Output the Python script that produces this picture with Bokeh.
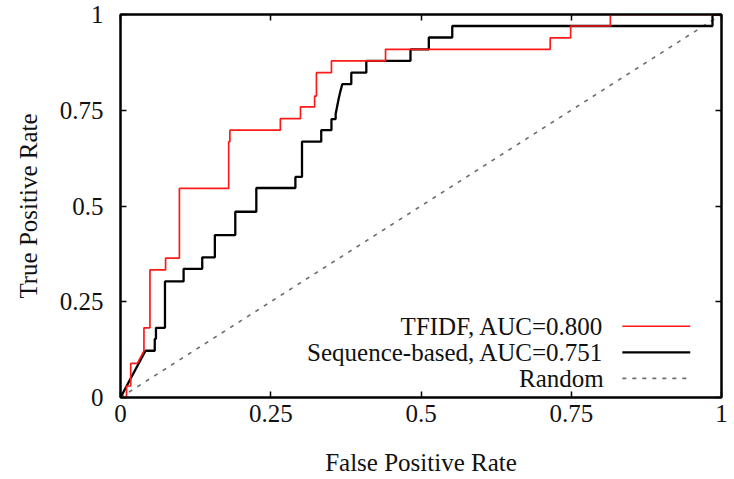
from bokeh.plotting import figure
from bokeh.models import Range1d, FixedTicker, LinearAxis, CustomJSTickFormatter, ColumnDataSource
from bokeh.core.properties import value
from bokeh.embed import file_html
from bokeh.resources import INLINE

# ---------------- data ----------------
tfidf_fpr = [0.0, 0.010, 0.010, 0.017, 0.017, 0.028, 0.039, 0.039, 0.049, 0.049,
             0.075, 0.075, 0.098, 0.098, 0.180, 0.180, 0.182, 0.182, 0.266, 0.266,
             0.2995, 0.2995, 0.323, 0.323, 0.326, 0.326, 0.351, 0.351, 0.441, 0.441,
             0.715, 0.715, 0.749, 0.749, 0.815, 0.815, 1.0]
tfidf_tpr = [0.0, 0.0, 0.030, 0.030, 0.089, 0.089, 0.122, 0.182, 0.182, 0.333,
             0.333, 0.364, 0.364, 0.546, 0.546, 0.668, 0.668, 0.698, 0.698, 0.728,
             0.728, 0.759, 0.759, 0.787, 0.787, 0.848, 0.848, 0.879, 0.879, 0.909,
             0.909, 0.939, 0.939, 0.970, 0.970, 1.0, 1.0]

seq_fpr = [0.0, 0.0416, 0.057, 0.057, 0.059, 0.059, 0.074, 0.074, 0.105, 0.105,
           0.136, 0.136, 0.157, 0.157, 0.191, 0.191, 0.226, 0.226, 0.291, 0.291,
           0.302, 0.302, 0.334, 0.334, 0.351, 0.351, 0.358, 0.358, 0.363, 0.366,
           0.369, 0.384, 0.384, 0.409, 0.409, 0.4825, 0.4825, 0.513, 0.513, 0.552,
           0.552, 0.985, 0.985, 1.0]
seq_tpr = [0.0, 0.122, 0.122, 0.153, 0.153, 0.182, 0.182, 0.303, 0.303, 0.336,
           0.336, 0.366, 0.366, 0.424, 0.424, 0.485, 0.485, 0.547, 0.547, 0.576,
           0.576, 0.668, 0.668, 0.698, 0.698, 0.727, 0.727, 0.740, 0.780, 0.800,
           0.818, 0.818, 0.848, 0.848, 0.879, 0.879, 0.909, 0.909, 0.940, 0.940,
           0.970, 0.970, 1.0, 1.0]

random_fpr = [0.0, 1.0]
random_tpr = [0.0, 1.0]

tick_values = [0, 0.25, 0.5, 0.75, 1]
tick_labels = ["0", "0.25", "0.5", "0.75", "1"]

legend_labels = ["TFIDF, AUC=0.800", "Sequence-based, AUC=0.751", "Random"]
x_title = "False Positive Rate"
y_title = "True Positive Rate"

# ---------------- styles / layout ----------------
FONT = "Liberation Serif"
FS = "25px"
RED = "#ff1a1a"
BLACK = "#000000"
GRAY = "#6e6e6e"
DASH = "4 6"

LEG_TEXT_X = 0.804
LEG_LINE_X0 = 0.835
LEG_LINE_X1 = 0.948
LEG_ROW0 = 0.186
LEG_ROW_STEP = 0.068

p = figure(width=734, height=479,
           x_range=Range1d(0, 1), y_range=Range1d(0, 1),
           output_backend="svg", toolbar_location=None,
           min_border_left=120, min_border_right=13,
           min_border_top=14, min_border_bottom=82,
           x_axis_label=x_title, y_axis_label=y_title)

p.background_fill_color = "white"
p.border_fill_color = "white"
p.outline_line_color = BLACK
p.outline_line_width = 2
p.xgrid.visible = False
p.ygrid.visible = False

fmt = CustomJSTickFormatter(args=dict(vals=tick_values, labs=tick_labels),
                            code="const i = vals.indexOf(tick); return i >= 0 ? labs[i] : String(tick);")
empty_fmt = CustomJSTickFormatter(code="return '';")

def style_axis(ax, labels=True):
    ax.ticker = FixedTicker(ticks=tick_values)
    ax.major_tick_in = 6
    ax.major_tick_out = 0
    ax.minor_tick_line_color = None
    ax.major_tick_line_width = 1.5
    ax.major_tick_line_color = BLACK
    ax.axis_line_color = BLACK
    ax.axis_line_width = 2
    if labels:
        ax.formatter = fmt
        ax.major_label_text_font = FONT
        ax.major_label_text_font_size = FS
        ax.major_label_text_color = "#111111"
        ax.axis_label_text_font = FONT
        ax.axis_label_text_font_size = FS
        ax.axis_label_text_font_style = "normal"
        ax.axis_label_text_color = "#111111"
    else:
        ax.formatter = empty_fmt
        ax.major_label_text_font_size = "1px"
        ax.major_label_standoff = 0

style_axis(p.xaxis[0])
style_axis(p.yaxis[0])
p.xaxis[0].major_label_standoff = 7
p.xaxis[0].axis_label_standoff = 24
p.yaxis[0].major_label_standoff = 17
p.yaxis[0].axis_label_standoff = 15

top_ax = LinearAxis()
right_ax = LinearAxis()
style_axis(top_ax, labels=False)
style_axis(right_ax, labels=False)
p.add_layout(top_ax, "above")
p.add_layout(right_ax, "right")

# ---------------- curves ----------------
p.line(random_fpr, random_tpr, line_color=GRAY, line_width=1.6, line_dash=DASH)
p.line(seq_fpr, seq_tpr, line_color=BLACK, line_width=2.3)
p.line(tfidf_fpr, tfidf_tpr, line_color=RED, line_width=1.7)

# ---------------- legend (text left of sample, as in reference) ----------------
rows = [LEG_ROW0 - i * LEG_ROW_STEP for i in range(len(legend_labels))]
leg_src = ColumnDataSource(dict(x=[LEG_TEXT_X] * len(rows), y=rows, text=legend_labels))
p.text(x="x", y="y", text="text", source=leg_src, text_align="right",
       text_baseline="middle", text_font=value(FONT), text_font_size=value(FS),
       text_color="#111111")
colors = [RED, BLACK, GRAY]
widths = [1.7, 2.3, 1.6]
dashes = ["solid", "solid", DASH]
for r, c, w, d in zip(rows, colors, widths, dashes):
    p.line([LEG_LINE_X0, LEG_LINE_X1], [r, r], line_color=c, line_width=w, line_dash=d)

open("out.html", "w").write(file_html(p, INLINE))
